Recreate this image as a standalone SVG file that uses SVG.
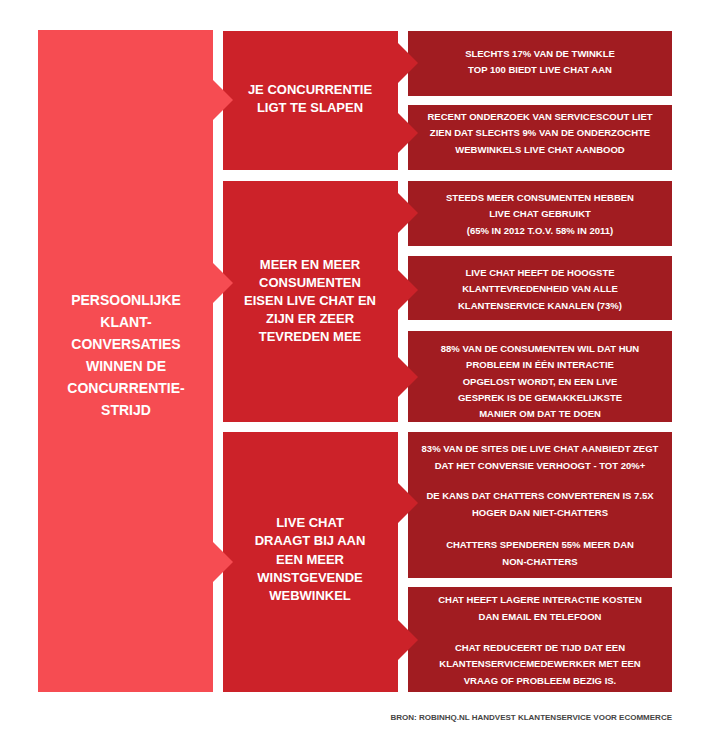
<svg xmlns="http://www.w3.org/2000/svg" width="710" height="740" viewBox="0 0 710 740">
<style>
.l{fill:#f64c52}.m{fill:#cc2229}.r{fill:#a11c21}
text{font-family:"Liberation Sans",Arial,sans-serif;font-weight:bold;fill:#fff;text-anchor:middle}
.tl{font-size:14px}.tm{font-size:13px}.tr{font-size:9.5px}
.src{font-size:8px;fill:#444;text-anchor:end}
</style>
<rect width="710" height="740" fill="#fff"/>
<g id="r1"><rect class="r" x="408" y="31" width="264" height="65"/>
<text class="tr"><tspan x="540" y="57">SLECHTS 17% VAN DE TWINKLE</tspan><tspan x="540" y="73">TOP 100 BIEDT LIVE CHAT AAN</tspan></text></g>
<g id="r2"><rect class="r" x="408" y="105" width="264" height="65"/>
<text class="tr"><tspan x="540" y="120">RECENT ONDERZOEK VAN SERVICESCOUT LIET</tspan><tspan x="540" y="136">ZIEN DAT SLECHTS 9% VAN DE ONDERZOCHTE</tspan><tspan x="540" y="153">WEBWINKELS LIVE CHAT AANBOOD</tspan></text></g>
<g id="r3"><rect class="r" x="408" y="181" width="264" height="65"/>
<text class="tr"><tspan x="540" y="201">STEEDS MEER CONSUMENTEN HEBBEN</tspan><tspan x="540" y="217">LIVE CHAT GEBRUIKT</tspan><tspan x="540" y="234">(65% IN 2012 T.O.V. 58% IN 2011)</tspan></text></g>
<g id="r4"><rect class="r" x="408" y="256" width="264" height="64"/>
<text class="tr"><tspan x="540" y="276">LIVE CHAT HEEFT DE HOOGSTE</tspan><tspan x="540" y="292">KLANTTEVREDENHEID VAN ALLE</tspan><tspan x="540" y="309">KLANTENSERVICE KANALEN (73%)</tspan></text></g>
<g id="r5"><rect class="r" x="408" y="331" width="264" height="91"/>
<text class="tr"><tspan x="540" y="352">88% VAN DE CONSUMENTEN WIL DAT HUN</tspan><tspan x="540" y="368">PROBLEEM IN ÉÉN INTERACTIE</tspan><tspan x="540" y="385">OPGELOST WORDT, EN EEN LIVE</tspan><tspan x="540" y="401">GESPREK IS DE GEMAKKELIJKSTE</tspan><tspan x="540" y="417">MANIER OM DAT TE DOEN</tspan></text></g>
<g id="r6"><rect class="r" x="408" y="432" width="264" height="146"/>
<text class="tr"><tspan x="540" y="452">83% VAN DE SITES DIE LIVE CHAT AANBIEDT ZEGT</tspan><tspan x="540" y="469">DAT HET CONVERSIE VERHOOGT - TOT 20%+</tspan><tspan x="540" y="499">DE KANS DAT CHATTERS CONVERTEREN IS 7.5X</tspan><tspan x="540" y="516">HOGER DAN NIET-CHATTERS</tspan><tspan x="540" y="548">CHATTERS SPENDEREN 55% MEER DAN</tspan><tspan x="540" y="565">NON-CHATTERS</tspan></text></g>
<g id="r7"><rect class="r" x="408" y="587" width="264" height="105"/>
<text class="tr"><tspan x="540" y="603">CHAT HEEFT LAGERE INTERACTIE KOSTEN</tspan><tspan x="540" y="620">DAN EMAIL EN TELEFOON</tspan><tspan x="540" y="651">CHAT REDUCEERT DE TIJD DAT EEN</tspan><tspan x="540" y="667">KLANTENSERVICEMEDEWERKER MET EEN</tspan><tspan x="540" y="684">VRAAG OF PROBLEEM BEZIG IS.</tspan></text></g>
<g id="m1">
<path class="m" d="M223 31H398V43L418 63L398 83V113L418 133L398 153V170H223Z"/>
<text class="tm"><tspan x="310" y="94">JE CONCURRENTIE</tspan><tspan x="310" y="112">LIGT TE SLAPEN</tspan></text>
</g>
<g id="m2">
<path class="m" d="M223 181H398V193L418 213L398 233V270L418 290L398 310V357L418 377L398 397V422H223Z"/>
<text class="tm"><tspan x="310" y="269">MEER EN MEER</tspan><tspan x="310" y="287">CONSUMENTEN</tspan><tspan x="310" y="305">EISEN LIVE CHAT EN</tspan><tspan x="310" y="323">ZIJN ER ZEER</tspan><tspan x="310" y="341">TEVREDEN MEE</tspan></text>
</g>
<g id="m3">
<path class="m" d="M223 432H398V483L418 503L398 523V620L418 640L398 660V692H223Z"/>
<text class="tm"><tspan x="310" y="527">LIVE CHAT</tspan><tspan x="310" y="545">DRAAGT BIJ AAN</tspan><tspan x="310" y="564">EEN MEER</tspan><tspan x="310" y="582">WINSTGEVENDE</tspan><tspan x="310" y="600">WEBWINKEL</tspan></text>
</g>
<g id="main">
<path class="l" d="M38 30H213V80L233 100L213 120V263L233 283L213 303V542L233 562L213 582V692H38Z"/>
<text class="tl"><tspan x="126" y="305">PERSOONLIJKE</tspan><tspan x="126" y="327">KLANT-</tspan><tspan x="126" y="349">CONVERSATIES</tspan><tspan x="126" y="371">WINNEN DE</tspan><tspan x="126" y="393">CONCURRENTIE-</tspan><tspan x="126" y="415">STRIJD</tspan></text>
</g>
<g id="connectors"></g>
<text class="src" x="672" y="720">BRON: ROBINHQ.NL HANDVEST KLANTENSERVICE VOOR ECOMMERCE</text>
</svg>
